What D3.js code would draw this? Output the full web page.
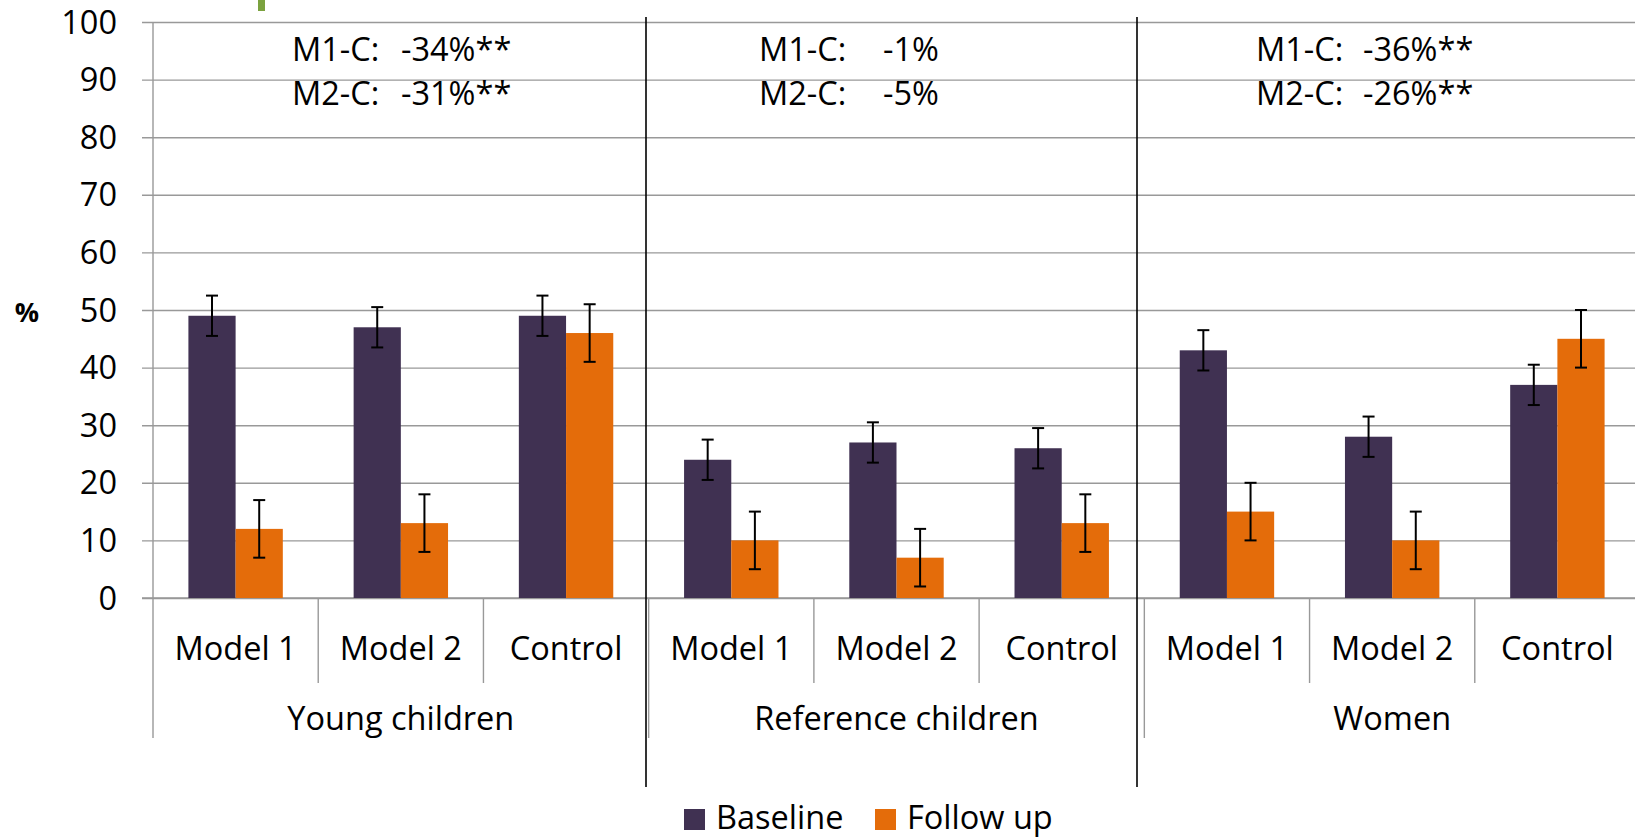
<!DOCTYPE html>
<html>
<head>
<meta charset="utf-8">
<script src="https://cdn.jsdelivr.net/npm/d3@7"></script>
<style>
  html, body { margin: 0; padding: 0; background: #fff; }
  svg text { font-family: "Open Sans", "Noto Sans", sans-serif; fill: #000; }
</style>
</head>
<body>
<svg id="chart" width="1635" height="838"></svg>
<script>
// ---------------- data ----------------
const groups = ["Young children", "Reference children", "Women"];
const models = ["Model 1", "Model 2", "Control"];
const seriesNames = ["Baseline", "Follow up"];
const baseline = [49, 47, 49, 24, 27, 26, 43, 28, 37];
const followUp = [12, 13, 46, 10, 7, 13, 15, 10, 45];
const baselineErr = [3.5, 3.5, 3.5, 3.5, 3.5, 3.5, 3.5, 3.5, 3.5];
const followUpErr = [5, 5, 5, 5, 5, 5, 5, 5, 5];
const yTicks = [0, 10, 20, 30, 40, 50, 60, 70, 80, 90, 100];
const annLabels = ["M1-C:", "M2-C:"];
const annValues = [["-34%**", "-31%**"], ["-1%", "-5%"], ["-36%**", "-26%**"]];

// ---------------- layout ----------------
const colors = { "Baseline": "#403152", "Follow up": "#E46C0A" };
const FS = 32.5;
const plotLeft = 153, plotRight = 1640, yTop = 22, yBottom = 598;
const annLabelX = [292, 759, 1256];
const annValueX = [401, 883, 1363];
const annY = [61, 105];
const dividerX = [646, 1137];

const svg = d3.select("#chart");

const cats = d3.range(groups.length * models.length);
const x0 = d3.scaleBand().domain(cats).range([plotLeft, plotRight]).paddingInner(0).paddingOuter(0);
const x1 = d3.scaleBand().domain(seriesNames).range([0, x0.bandwidth()]).paddingInner(0).paddingOuter(0.75);
const y = d3.scaleLinear().domain([0, 100]).range([yBottom, yTop]);

// gridlines
const grid = svg.append("g").attr("transform", `translate(${plotLeft - 11},0)`)
  .call(d3.axisLeft(y).tickValues(yTicks).tickSize(-(plotRight - plotLeft + 11)).tickFormat(""));
grid.select(".domain").remove();
grid.selectAll("line").attr("stroke", "#999").attr("stroke-width", 1.4);

// y tick labels
const yAx = svg.append("g").attr("transform", `translate(${plotLeft},0)`)
  .call(d3.axisLeft(y).tickValues(yTicks).tickSize(0).tickPadding(36));
yAx.select(".domain").remove();
yAx.selectAll("text").attr("font-size", FS).attr("dy", "0.34em")
  .style("font-family", '"Open Sans", sans-serif');

// y axis line (gray), extends down to group level
svg.append("line").attr("x1", plotLeft).attr("x2", plotLeft).attr("y1", yTop).attr("y2", 738)
  .attr("stroke", "#999").attr("stroke-width", 1.4);

// x axis baseline
svg.append("line").attr("x1", plotLeft - 11).attr("x2", plotRight).attr("y1", yBottom).attr("y2", yBottom)
  .attr("stroke", "#999").attr("stroke-width", 1.4);

// category boundary ticks
cats.slice(1).forEach(i => {
  const isGroup = i % models.length === 0;
  svg.append("line")
    .attr("x1", x0(i)).attr("x2", x0(i))
    .attr("y1", yBottom).attr("y2", isGroup ? 738 : 683)
    .attr("stroke", "#999").attr("stroke-width", 1.4);
});

// bars
const barData = [];
cats.forEach(i => {
  barData.push({ c: i, s: "Baseline", v: baseline[i], e: baselineErr[i] });
  barData.push({ c: i, s: "Follow up", v: followUp[i], e: followUpErr[i] });
});
svg.append("g").selectAll("rect").data(barData).join("rect")
  .attr("x", d => x0(d.c) + x1(d.s))
  .attr("width", x1.bandwidth())
  .attr("y", d => y(d.v))
  .attr("height", d => y(0) - y(d.v))
  .attr("fill", d => colors[d.s]);

// error bars
const eg = svg.append("g").attr("stroke", "#000").attr("stroke-width", 2);
barData.forEach(d => {
  const cx = x0(d.c) + x1(d.s) + x1.bandwidth() / 2;
  const cw = 6;
  eg.append("line").attr("x1", cx).attr("x2", cx).attr("y1", y(d.v + d.e)).attr("y2", y(d.v - d.e));
  eg.append("line").attr("x1", cx - cw).attr("x2", cx + cw).attr("y1", y(d.v + d.e)).attr("y2", y(d.v + d.e));
  eg.append("line").attr("x1", cx - cw).attr("x2", cx + cw).attr("y1", y(d.v - d.e)).attr("y2", y(d.v - d.e));
});

// category labels
const xAx = svg.append("g").attr("transform", `translate(0,${yBottom})`)
  .call(d3.axisBottom(x0).tickSize(0).tickPadding(0).tickFormat(i => models[i % models.length]));
xAx.select(".domain").remove();
xAx.selectAll("text").attr("font-size", FS).attr("dy", null).attr("y", 62)
  .style("font-family", '"Open Sans", sans-serif');

// group labels
groups.forEach((g, gi) => {
  const a = x0(gi * models.length), b = x0(gi * models.length + models.length - 1) + x0.bandwidth();
  svg.append("text").attr("x", (a + b) / 2).attr("y", 730).attr("text-anchor", "middle")
    .attr("font-size", FS).text(g);
});

// panel dividers
dividerX.forEach(dx => {
  svg.append("line").attr("x1", dx).attr("x2", dx).attr("y1", 17).attr("y2", 787)
    .attr("stroke", "#000").attr("stroke-width", 1.6);
});

// annotations
annValues.forEach((vals, gi) => {
  annLabels.forEach((lab, li) => {
    svg.append("text").attr("x", annLabelX[gi]).attr("y", annY[li]).attr("font-size", FS).text(lab);
    svg.append("text").attr("x", annValueX[gi]).attr("y", annY[li]).attr("font-size", FS).text(vals[li]);
  });
});

// y axis title
svg.append("text").attr("x", 27).attr("y", 322).attr("text-anchor", "middle")
  .attr("font-size", 27).attr("font-weight", "bold").text("%");

// small green mark at top (clipped element in original)
svg.append("rect").attr("x", 258).attr("y", 0).attr("width", 7).attr("height", 11).attr("fill", "#7BA23F");

// legend
const legX = [684, 875];
seriesNames.forEach((s, i) => {
  svg.append("rect").attr("x", legX[i]).attr("y", 809).attr("width", 21).attr("height", 21).attr("fill", colors[s]);
  svg.append("text").attr("x", legX[i] + 32).attr("y", 829).attr("font-size", FS).text(s);
});
</script>
</body>
</html>
